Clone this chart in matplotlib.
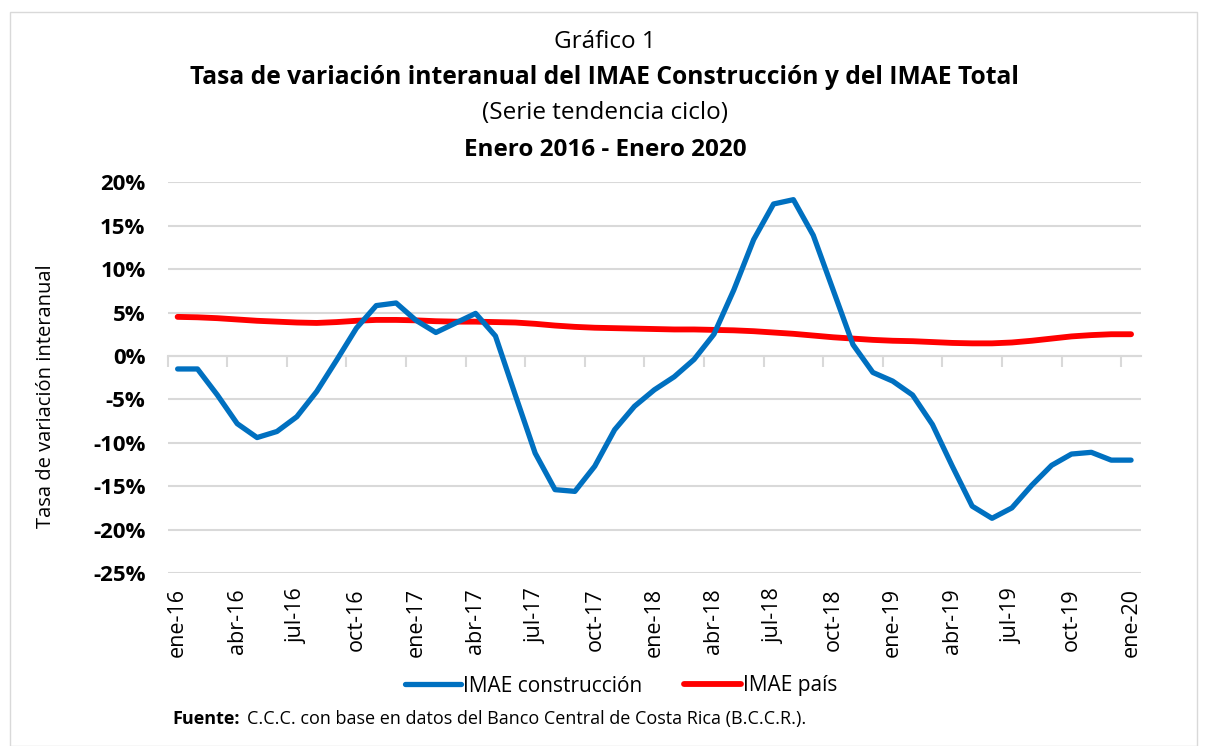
import matplotlib
matplotlib.use("Agg")
import matplotlib.pyplot as plt
from matplotlib.patches import Rectangle
from matplotlib.ticker import FuncFormatter, FixedLocator

plt.rcParams['font.family'] = ['Open Sans', 'DejaVu Sans']

months = ["ene", "feb", "mar", "abr", "may", "jun", "jul", "ago", "sep", "oct", "nov", "dic"]
categories = [f"{months[i % 12]}-{16 + i // 12}" for i in range(49)]

imae_construccion = [
    -1.5, -1.5, -4.5, -7.8, -9.4, -8.7, -7.0, -4.1, -0.5, 3.2, 5.8, 6.1,
    4.1, 2.7, 3.8, 4.9, 2.3, -4.5, -11.2, -15.4, -15.6, -12.7, -8.5, -5.8,
    -3.9, -2.4, -0.4, 2.5, 7.6, 13.4, 17.5, 18.0, 13.9, 7.6, 1.3, -1.9,
    -2.9, -4.5, -7.9, -12.7, -17.3, -18.7, -17.5, -14.9, -12.6, -11.3, -11.1, -12.0,
    -12.0,
]
imae_pais = [
    4.5, 4.45, 4.35, 4.2, 4.05, 3.95, 3.85, 3.8, 3.9, 4.05, 4.15, 4.15,
    4.1, 4.0, 3.95, 3.95, 3.9, 3.85, 3.7, 3.5, 3.35, 3.25, 3.2, 3.15,
    3.1, 3.05, 3.05, 3.0, 2.95, 2.85, 2.7, 2.55, 2.35, 2.15, 2.0, 1.85,
    1.75, 1.7, 1.6, 1.5, 1.45, 1.45, 1.55, 1.75, 2.0, 2.25, 2.4, 2.5,
    2.5,
]
y_ticks = [-25, -20, -15, -10, -5, 0, 5, 10, 15, 20]

fig = plt.figure(figsize=(12.05, 7.46), dpi=100)
fig.patches.append(Rectangle((10 / 1205, 0), 1187 / 1205, 1 - 12 / 746, transform=fig.transFigure,
                             fill=False, edgecolor="#d9d9d9", linewidth=1))

ax = fig.add_axes([167.7 / 1205, 1 - 573 / 746, (1141 - 167.7) / 1205, (573 - 182.3) / 746])
x = list(range(len(categories)))
ax.plot(x, imae_pais, color="#FF0000", linewidth=4.2, solid_capstyle="round", label="IMAE país", zorder=3)
ax.plot(x, imae_construccion, color="#0070C0", linewidth=3.8, solid_capstyle="round", label="IMAE construcción", zorder=4)

ax.set_xlim(-0.5, len(categories) - 0.5)
ax.set_ylim(-25, 20)
ax.set_yticks(y_ticks)
ax.yaxis.set_major_formatter(FuncFormatter(lambda v, p: f"{int(v)}%"))
ax.tick_params(axis="y", length=0, labelsize=16, pad=16)
for lab in ax.get_yticklabels():
    lab.set_fontweight("bold")
ax.grid(axis="y", color="#d9d9d9", linewidth=1.5)
ax.set_axisbelow(True)
for s in ["top", "right", "left"]:
    ax.spines[s].set_visible(False)
ax.spines["bottom"].set_position(("data", 0))
ax.spines["bottom"].set_color("#d9d9d9")
ax.spines["bottom"].set_linewidth(1.5)
ax.xaxis.set_major_locator(FixedLocator([i - 0.5 for i in range(0, 49, 3)]))
ax.tick_params(axis="x", direction="out", length=8, width=1.5, color="#d9d9d9", labelbottom=False)

sec = ax.secondary_xaxis("bottom")
sec.set_xticks(list(range(0, 49, 3)))
sec.set_xticklabels([categories[i] for i in range(0, 49, 3)], rotation=90, fontsize=15.5)
sec.tick_params(length=0, pad=11)
sec.spines["bottom"].set_visible(False)

ax.set_ylabel("Tasa de variación interanual", fontsize=14.5)
ax.yaxis.set_label_coords(-0.115, 0.453)

fig.text(0.502, 1 - 42 / 746, "Gráfico 1", ha="center", va="center", fontsize=17.5)
fig.text(0.502, 1 - 77 / 746, "Tasa de variación interanual del IMAE Construcción y del IMAE Total",
         ha="center", va="center", fontsize=17.7, fontweight="bold")
fig.text(0.502, 1 - 113 / 746, "(Serie tendencia ciclo)", ha="center", va="center", fontsize=17.5)
fig.text(0.502, 1 - 150 / 746, "Enero 2016 - Enero 2020", ha="center", va="center", fontsize=17.5, fontweight="bold")

handles, labels = ax.get_legend_handles_labels()
fig.legend(handles[::-1], labels[::-1], loc="center", bbox_to_anchor=(621 / 1205, 1 - 686 / 746), ncol=2,
           frameon=False, fontsize=15, handlelength=2.7, handletextpad=0.1, columnspacing=2.0)

fig.text(172 / 1205, 1 - 719 / 746, "Fuente:", fontsize=13, fontweight="bold", va="center")
fig.text(247 / 1205, 1 - 719 / 746, "C.C.C. con base en datos del Banco Central de Costa Rica (B.C.C.R.).",
         fontsize=13, va="center")

fig.savefig("out.png", dpi=100)
